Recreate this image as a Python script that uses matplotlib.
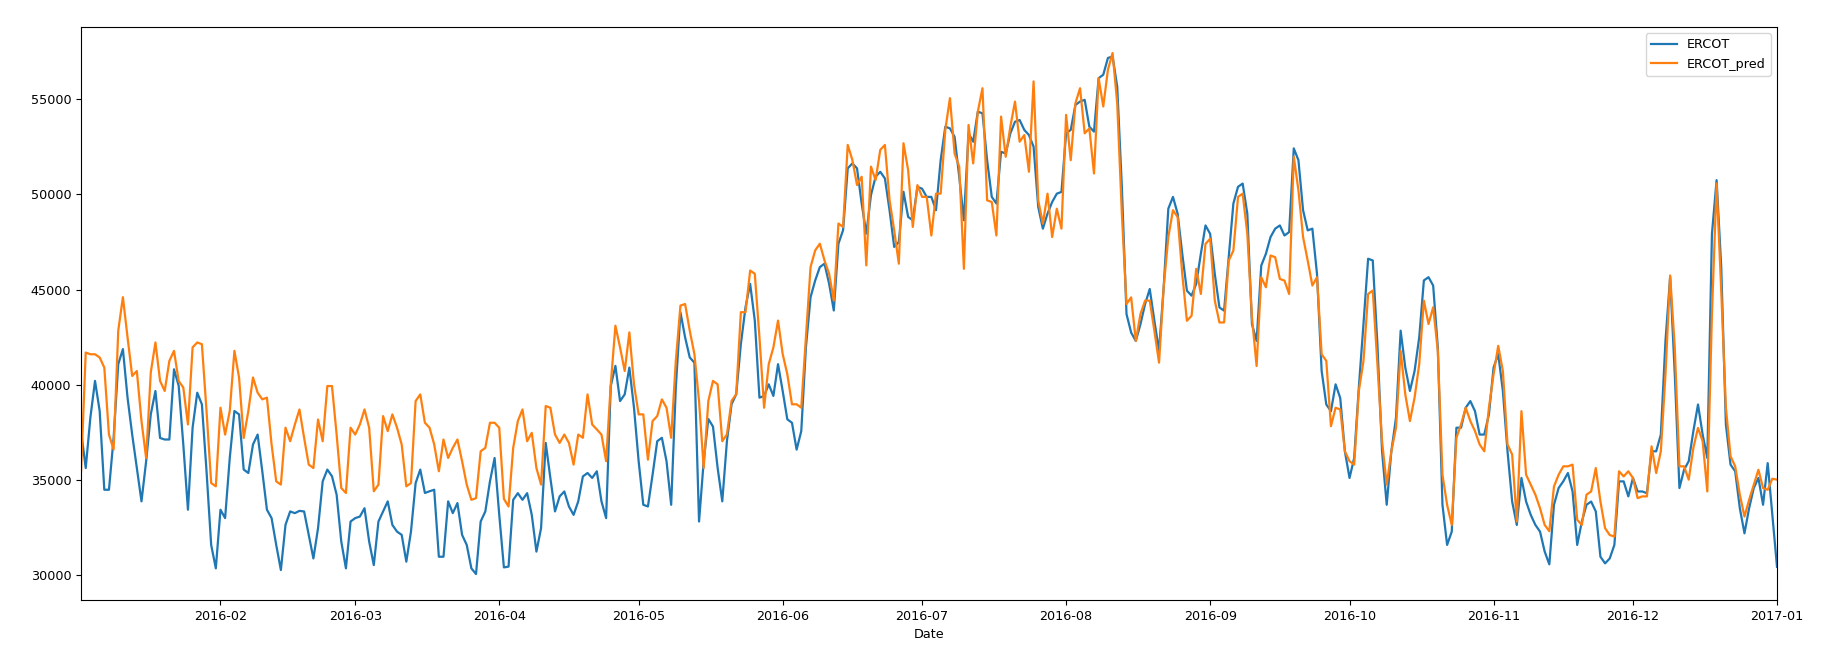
import matplotlib
matplotlib.use("Agg")
import matplotlib.pyplot as plt
import matplotlib.dates as mdates
import pandas as pd

# daily dates, 2016-01-02 .. 2017-01-01
start_date = "2016-01-02"
n_days = 366

ercot_a = [37560, 35620, 38270, 40200, 38620, 34480, 34480, 37200, 41080, 41870,
           39320, 37380, 35620, 33870, 35970, 38440, 39670, 37200, 37120, 37120,
           40810, 39950, 36860, 33430, 37740, 39580, 38970, 35450, 31580, 30350,
           33430, 32990, 36150, 38620, 38440, 35540, 35360, 36860, 37380, 35450,
           33430, 32990, 31580, 30260, 32640, 33340, 33250]
ercot_b = [33370, 33340, 32110, 30870, 32460, 34920, 35540, 35190, 34220, 31760,
           30350, 32810, 32990, 33070, 33510, 31760, 30520, 32810, 33340, 33870,
           32630, 32280, 32110, 30700, 32280, 34830, 35540, 34310, 34400, 34480,
           30960, 30960, 33870, 33250, 33780, 32110, 31580, 30350, 30050, 32810,
           33340, 34920, 36150, 33160, 30400]
ercot_c = [30440, 33950, 34300, 33950, 34300, 33160, 31230, 32460, 36940, 35100,
           33340, 34130, 34390, 33600, 33160, 33870, 35180, 35360, 35100, 35450,
           33870, 32990, 39930, 40990, 39140, 39490, 40900, 38790, 35980, 33690,
           33600, 35270, 37030, 37210, 35980, 33690, 39850, 43800, 42490, 41430,
           41160, 32810, 35980, 38200, 37800]
ercot_d = [35630, 33870, 37030, 38970, 39500, 42130, 44070, 45300, 43370, 39320,
           39410, 40020, 39410, 41080, 39670, 38180, 38000, 36590, 37560, 41960,
           44600, 45480, 46180, 46360, 45300, 43900, 47410, 48120, 51370, 51630,
           51370, 49520, 47940, 49960, 50930, 51190, 50840, 49170, 47240, 47500,
           50140, 48820, 48640, 50400, 50300]
ercot_e = [49870, 49870, 49170, 51800, 53560, 53470, 53030, 50920, 48640,
           53210, 52770, 54350, 54260, 51800, 49870, 49520, 52240, 52150, 53210,
           53820, 53910, 53390, 53120, 52510, 49340, 48200, 48990, 49600, 50040,
           50130, 53210, 53390, 54700, 54880, 54970, 53560, 53300, 56110, 56290,
           57170, 57250, 55670, 50400, 43710, 42740]
ercot_f = [42300, 43180, 44240, 45030, 43360, 41780, 45120, 49250, 49870, 48990,
           46880, 44940, 44680, 45300, 46880, 48370, 47930, 45820, 44060, 43890,
           46700, 49520, 50400, 50570, 48990, 43180, 42300, 46260, 46880, 47760,
           48200, 48370, 47840, 48020, 52420, 51800, 49170, 48110, 48200, 45820,
           40720, 38960, 38610, 40020, 39300]
ercot_g = [36500, 35100, 36150, 39850, 43190, 46620, 46530, 42130, 36500,
           33690, 36500, 38260, 42840, 40900, 39670, 40720, 42490, 45480, 45650,
           45210, 41960, 33690, 31580, 32280, 37740, 37740, 38790, 39140, 38610,
           37380, 37380, 38440, 40900, 41610, 39670, 36500, 33860, 32630, 35100,
           33860, 33160, 32630, 32280, 31230, 30560]
ercot_h = [33690, 34570, 34920, 35360, 34390, 31580, 32810, 33690, 33860, 33340,
           30960, 30610, 30870, 31580, 34920, 34920, 34130, 35100, 34390, 34390,
           34300, 36500, 36500, 37380, 42310, 45650, 40550, 34570, 35530, 35980,
           37560, 38960, 37380, 36150, 47930, 50750, 46180, 37910, 35800, 35450,
           33510, 32190, 33510, 34570, 35100, 33690, 35880, 33160, 30430]

# model prediction, same blocks
pred_a = [35450, 41690, 41600, 41600, 41430, 40900, 37380, 36590, 42840, 44600,
          42490, 40460, 40720, 38090, 36150, 40640, 42220, 40200, 39670, 41250,
          41780, 40200, 39850, 37910, 41960, 42220, 42130, 38620, 34830, 34660,
          38790, 37380, 38620, 41780, 40380, 37200, 38620, 40380, 39580, 39230,
          39320, 36860, 34920, 34750, 37740, 37030, 37900]
pred_b = [38700, 37210, 35800, 35620, 38170, 37030, 39930, 39930, 37380, 34570,
          34310, 37740, 37380, 37910, 38700, 37740, 34400, 34750, 38350, 37560,
          38440, 37740, 36860, 34660, 34830, 39140, 39490, 38000, 37740, 36860,
          35450, 37120, 36150, 36680, 37120, 35980, 34750, 33950, 34040, 36500,
          36680, 38000, 38000, 37740, 34000]
pred_c = [33600, 36680, 38090, 38700, 37030, 37470, 35620, 34750, 38880, 38790,
          37380, 36940, 37380, 36940, 35800, 37380, 37210, 39490, 37910, 37650,
          37380, 35980, 40020, 43100, 41960, 40720, 42750, 40020, 38440, 38440,
          36060, 38090, 38350, 39230, 38790, 37210, 41250, 44160, 44240, 42840,
          41610, 39140, 35620, 39140, 40200]
pred_d = [40020, 37030, 37390, 39150, 39500, 43810, 43810, 46000, 45830, 42490,
          38790, 41080, 41960, 43370, 41610, 40550, 38970, 38970, 38790, 42490,
          46180, 47060, 47410, 46530, 45830, 44420, 48470, 48290, 52600, 51810,
          50490, 50930, 46270, 51460, 50750, 52340, 52600, 49700, 48120, 46360,
          52690, 51280, 48290, 50490, 49870]
pred_e = [49870, 47840, 50040, 50040, 53390, 55060, 52150, 51450, 46090,
          53650, 51630, 54350, 55580, 49690, 49600, 47840, 54090, 51980, 53560,
          54880, 52770, 53120, 51190, 55940, 49690, 48460, 50040, 47760, 49250,
          48200, 54180, 51800, 54790, 55580, 53210, 53470, 51100, 56110, 54620,
          56550, 57430, 54790, 48990, 44240, 44590]
pred_f = [42300, 43710, 44420, 44420, 42830, 41160, 45120, 47760, 49170, 48810,
          45820, 43360, 43620, 46090, 44770, 47400, 47670, 44420, 43270, 43270,
          46520, 47050, 49870, 50040, 47930, 43540, 40980, 45650, 45120, 46790,
          46700, 45560, 45470, 44770, 51980, 50220, 47760, 46520, 45210, 45650,
          41600, 41250, 37820, 38790, 38700]
pred_g = [36500, 35980, 35800, 39670, 41250, 44770, 44950, 41080, 37030,
          34750, 36500, 37740, 41780, 39490, 38090, 39320, 41080, 44420, 43190,
          44070, 41780, 35270, 33690, 32630, 37210, 37910, 38790, 38090, 37560,
          36860, 36500, 38790, 40550, 42040, 40720, 36860, 36330, 32810, 38610,
          35270, 34750, 34220, 33510, 32630, 32300]
pred_h = [34650, 35270, 35710, 35710, 35800, 32900, 32630, 34220, 34390, 35620,
          33860, 32460, 32100, 32020, 35450, 35180, 35450, 35100, 34040, 34130,
          34130, 36760, 35360, 36500, 40550, 45740, 41950, 35710, 35710, 35010,
          36680, 37730, 37030, 34390, 43710, 50570, 44940, 38790, 36240, 35710,
          34220, 33070, 33950, 34740, 35530, 34570, 34480, 35060, 35010]

ercot = ercot_a + ercot_b + ercot_c + ercot_d + ercot_e + ercot_f + ercot_g + ercot_h
ercot_pred = pred_a + pred_b + pred_c + pred_d + pred_e + pred_f + pred_g + pred_h

dates = pd.date_range(start_date, periods=n_days, freq="D")
df = pd.DataFrame({"ERCOT": ercot, "ERCOT_pred": ercot_pred}, index=dates)
df.index.name = "Date"

fig = plt.figure(figsize=(18.22, 6.58), dpi=100)
ax = fig.add_axes([0.0445, 0.088, 0.9308, 0.871])

ax.plot(df.index, df["ERCOT"], color="#1f77b4", lw=1.6, label="ERCOT")
ax.plot(df.index, df["ERCOT_pred"], color="#ff7f0e", lw=1.6, label="ERCOT_pred")

ax.set_xlim(df.index[0], df.index[-1])
ax.xaxis.set_major_locator(mdates.MonthLocator())
ax.xaxis.set_major_formatter(mdates.DateFormatter("%Y-%m"))
ax.set_yticks([30000, 35000, 40000, 45000, 50000, 55000])
ax.tick_params(labelsize=9.2)
ax.set_xlabel("Date", fontsize=9.2)

ax.legend(loc="upper right", fontsize=9.2)

fig.savefig("out.png", dpi=100)
